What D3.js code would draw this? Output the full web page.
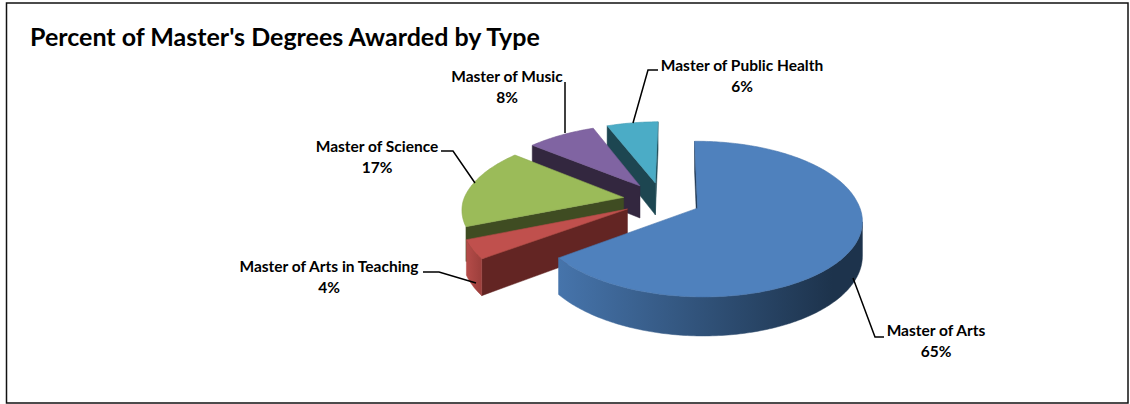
<!DOCTYPE html>
<html><head><meta charset="utf-8">
<script src="https://cdnjs.cloudflare.com/ajax/libs/d3/7.8.5/d3.min.js"></script>
<style>html,body{margin:0;padding:0;background:#fff}svg{display:block}text{font-family:Lato,"Open Sans",sans-serif;font-weight:700;fill:#000}</style>
</head><body><svg id="c" width="1130" height="404"></svg>
<script>
const categories=["Master of Arts","Master of Arts in Teaching","Master of Science","Master of Music","Master of Public Health"];
const values=[65,4,17,8,6];
const topColors=["#4F81BD","#C0504D","#9BBB59","#8064A2","#4BACC6"];
const faceColors=["#1F3650","#632523","#3F4C22","#33273F","#1D4651"];
const wallFrom=["#4674AB","#B54C49","#7f9a48","#6a5387","#3f93a9"];
const wallTo=["#1D334C","#9c3f3c","#3F4C22","#33273F","#1D4651"];
const rimShown=[true,true,false,false,false];
const labelAnchors=[[936,336],[329,272],[377,152],[507,82],[742,71]];
const leaders=[[[853,278],[875,337],[884,337]],[[476,283],[439,272],[423,272]],[[475,183],[453,151],[441,151]],[[565,133],[565,82]],[[633,123],[648,70],[658,70]]];

const view={cx:662,cy:200,S:160,tilt:74,persp:.139,depth:33,explode:.244,lean:3.5};
const svg=d3.select("#c"),defs=svg.append("defs");
const project=(X,Y,down)=>{const w=1+view.persp*Y;
  return [view.cx+view.S*X/w+view.lean*Math.max(0,Y), view.cy-(view.tilt*Y)/w+(down?view.depth/w:0)];};
const arcs=d3.pie().sort(null).startAngle(-0.012).endAngle(2*Math.PI-0.012).value(d=>d)(values);
const line=d3.line();
const order=[4,3,2,1,0];
const gp=svg.append("g");
order.forEach(i=>{
  const a=arcs[i],m=(a.startAngle+a.endAngle)/2,
    ox=view.explode*Math.sin(m),oy=view.explode*Math.cos(m);
  const n=Math.max(4,Math.ceil((a.endAngle-a.startAngle)*60));
  const ang=d3.range(n+1).map(k=>a.startAngle+(a.endAngle-a.startAngle)*k/n);
  const rim=ang.map(t=>[ox+Math.sin(t),oy+Math.cos(t)]);
  const apex=[ox,oy];
  const T=p=>project(p[0],p[1],false),B=p=>project(p[0],p[1],true);
  const g=gp.append("g");
  const gid="w"+i;
  const rimT=rim.map(T);
  const xs=rimT.map(d=>d[0]);
  const lg=defs.append("linearGradient").attr("id",gid).attr("gradientUnits","userSpaceOnUse")
    .attr("x1",d3.min(xs)).attr("x2",i===0?d3.max(xs)-30:d3.max(xs)).attr("y1",0).attr("y2",0);
  lg.append("stop").attr("offset",0).attr("stop-color",wallFrom[i]);
  lg.append("stop").attr("offset",1).attr("stop-color",wallTo[i]);
  [[apex,rim[0]],[rim[n],apex]].forEach(([p,q])=>{
    if(T(q)[0]<T(p)[0]) g.append("path").attr("d",line([T(p),T(q),B(q),B(p)])+"Z")
      .attr("fill",faceColors[i]).attr("stroke",faceColors[i]).attr("stroke-width",.5);
  });
  if(rimShown[i]){
    let run=[];
    const flush=()=>{if(run.length>1){
      g.append("path").attr("d",line(run.map(T).concat(run.slice().reverse().map(B)))+"Z")
        .attr("fill",`url(#${gid})`).attr("stroke",`url(#${gid})`).attr("stroke-width",.5);}
      run=[];};
    for(let k=0;k<n;k++){
      if(T(rim[k+1])[0]<T(rim[k])[0]){ if(!run.length) run.push(rim[k]); run.push(rim[k+1]); }
      else flush();
    }
    flush();
  }
  g.append("path").attr("d",line([T(apex)].concat(rimT))+"Z")
    .attr("fill",topColors[i]).attr("stroke",d3.color(topColors[i]).darker(.25)).attr("stroke-width",.6);
});
svg.append("rect").attr("x",6.5).attr("y",3).attr("width",1121.5).attr("height",400)
  .attr("fill","none").attr("stroke","#111").attr("stroke-width",1.5);
svg.append("text").attr("x",30).attr("y",46).attr("font-size",25).text("Percent of Master's Degrees Awarded by Type");
leaders.forEach(l=>svg.append("path").attr("d",line(l)).attr("fill","none").attr("stroke","#000").attr("stroke-width",1.5));
categories.forEach((c,i)=>{
  const [x,y]=labelAnchors[i];
  svg.append("text").attr("x",x).attr("y",y).attr("text-anchor","middle").attr("font-size",15.5).text(c);
  svg.append("text").attr("x",x).attr("y",y+21).attr("text-anchor","middle").attr("font-size",15.5).text(values[i]+"%");
});
</script></body></html>
